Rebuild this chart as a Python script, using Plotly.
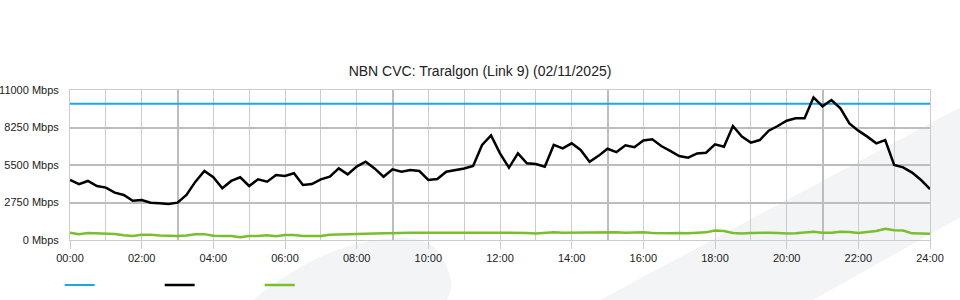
import plotly.graph_objects as go

# ---- data (15-minute samples, hours 0..24) ----
hours = [i / 4 for i in range(97)]
capacity_mbps = [10000] * 97
download_mbps = [
    4400, 4100, 4330, 3960, 3840, 3470, 3300, 2880, 2930, 2740, 2690, 2640,
    2740, 3300, 4280, 5060, 4600, 3790, 4330, 4600, 3960, 4450, 4280, 4770,
    4690, 4890, 4030, 4100, 4450, 4640, 5250, 4810, 5380, 5740, 5250, 4640,
    5180, 5010, 5130, 5060, 4400, 4470, 5010, 5130, 5250, 5430, 6970, 7670,
    6350, 5300, 6350, 5620, 5570, 5380, 6970, 6720, 7090, 6600, 5740, 6170,
    6690, 6450, 6940, 6800, 7300, 7380, 6890, 6530, 6160, 6040, 6350, 6400,
    7010, 6840, 8360, 7580, 7140, 7330, 8020, 8360, 8750, 8920, 8920, 10460,
    9800, 10260, 9650, 8550, 8020, 7580, 7090, 7330, 5500, 5330, 4940, 4400,
    3740,
]
upload_mbps = [
    540, 430, 520, 490, 450, 440, 340, 290, 380, 390, 330, 290,
    290, 330, 430, 430, 320, 290, 290, 200, 290, 300, 340, 280,
    370, 370, 290, 290, 300, 390, 420, 400, 440, 460, 470, 490,
    520, 560, 540, 540, 540, 560, 540, 540, 560, 540, 550, 560,
    540, 550, 550, 520, 480, 520, 560, 530, 540, 520, 510, 560,
    570, 560, 530, 560, 560, 520, 490, 490, 520, 500, 540, 560,
    700, 660, 520, 480, 520, 540, 540, 520, 480, 500, 560, 610,
    540, 540, 600, 590, 520, 570, 660, 820, 720, 700, 490, 470,
    460,
]
x_tick_vals = list(range(0, 25, 2))
x_tick_text = ["00:00", "02:00", "04:00", "06:00", "08:00", "10:00", "12:00",
               "14:00", "16:00", "18:00", "20:00", "22:00", "24:00"]
x_minor_vals = list(range(1, 24, 2))
x_major_grid = [3, 9, 15, 21]
y_tick_vals = [0, 2750, 5500, 8250, 11000]
y_tick_text = ["0 Mbps", "2750 Mbps", "5500 Mbps", "8250 Mbps", "11000 Mbps"]
y_major_grid = [2750, 5500, 8250]
title_text = "NBN CVC: Traralgon (Link 9) (02/11/2025)"

FONT = "Liberation Sans, Arial, sans-serif"
THIN = "#cccccc"
THICK = "#bdbdbd"
SHADE = "#f3f4f6"

fig = go.Figure()
fig.add_trace(go.Scatter(x=hours, y=capacity_mbps, mode="lines", name=" ",
                         xaxis="x", yaxis="y",
                         line=dict(color="#1ca7e1", width=2),
                         hovertemplate="Capacity: %{y} Mbps<extra></extra>"))
fig.add_trace(go.Scatter(x=hours, y=download_mbps, mode="lines", name=" ",
                         xaxis="x2", yaxis="y2",
                         line=dict(color="#000000", width=2.5),
                         hovertemplate="Download: %{y} Mbps<extra></extra>"))
fig.add_trace(go.Scatter(x=hours, y=upload_mbps, mode="lines", name=" ",
                         xaxis="x2", yaxis="y2",
                         line=dict(color="#77bf2b", width=2.5),
                         hovertemplate="Upload: %{y} Mbps<extra></extra>"))

def px(x):
    return (x - 70) / 860

def py(y):
    return (240 - y) / 150

band = "M {},{} L {},{} L {},{} L {},{} Z".format(
    px(600), py(300), px(1000), py(86), px(1000), py(195), px(813), py(300))
blob = ("M {},{} C {},{} {},{} {},{} C {},{} {},{} {},{} L {},{} Z").format(
    px(253), py(300), px(290), py(270), px(340), py(238), px(405), py(238),
    px(430), py(238), px(445), py(250), px(452), py(285), px(447), py(300))

fig.update_layout(
    width=960, height=300, autosize=False,
    margin=dict(l=70, r=30, t=90, b=60, autoexpand=False),
    paper_bgcolor="white", plot_bgcolor="rgba(0,0,0,0)",
    font=dict(family=FONT, size=11, color="#222222"),
    title=dict(text=title_text, x=0.5, xref="container", xanchor="center",
               y=1 - 71 / 300, yref="container", yanchor="middle",
               font=dict(family=FONT, size=14, color="#222222")),
    shapes=[
        dict(type="path", path=band, xref="paper", yref="paper",
             fillcolor=SHADE, line=dict(width=0), layer="below"),
        dict(type="path", path=blob, xref="paper", yref="paper",
             fillcolor=SHADE, line=dict(width=0), layer="below"),
    ],
    xaxis=dict(range=[0, 24], tickvals=x_tick_vals, ticktext=x_tick_text,
               ticks="outside", ticklen=8, tickcolor=THIN, tickwidth=1,
               showgrid=True, gridcolor=THIN, gridwidth=1,
               minor=dict(tickvals=x_minor_vals, showgrid=True,
                          gridcolor=THIN, gridwidth=1, ticks=""),
               showline=True, linecolor=THIN, linewidth=1, mirror=True,
               zeroline=False, fixedrange=True),
    xaxis2=dict(range=[0, 24], overlaying="x", tickvals=x_major_grid,
                showticklabels=False, ticks="", showgrid=True,
                gridcolor=THICK, gridwidth=2, zeroline=False, showline=False,
                fixedrange=True),
    yaxis=dict(range=[0, 11000], tickvals=y_tick_vals, ticktext=y_tick_text,
               ticks="outside", ticklen=8, tickcolor="rgba(0,0,0,0)",
               showgrid=False, showline=True, linecolor=THIN, linewidth=1,
               mirror=True, zeroline=False, fixedrange=True),
    yaxis2=dict(range=[0, 11000], overlaying="y", tickvals=y_major_grid,
                showticklabels=False, ticks="", showgrid=True,
                gridcolor=THICK, gridwidth=2, zeroline=False, showline=False,
                fixedrange=True),
    showlegend=True,
    legend=dict(orientation="h", x=-0.012, xanchor="left", y=-0.3,
                yanchor="middle", entrywidth=55, entrywidthmode="pixels",
                itemwidth=30, font=dict(size=11), bgcolor="rgba(0,0,0,0)"),
)

fig.write_html("out.html")
